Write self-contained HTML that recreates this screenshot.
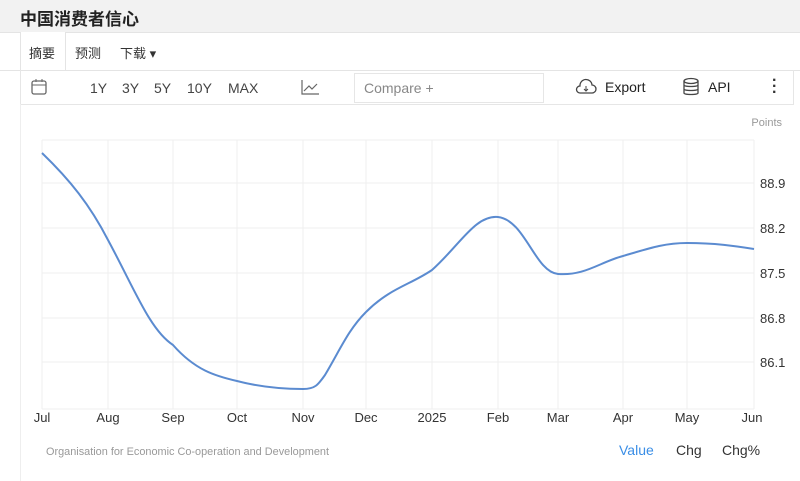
<!DOCTYPE html>
<html><head><meta charset="utf-8"><style>
body{margin:0;width:800px;height:481px;background:#fff;font-family:"Liberation Sans","Noto Sans CJK SC",sans-serif;position:relative;overflow:hidden;color:#333}
.a{position:absolute;white-space:nowrap}
.p{position:absolute;top:80px;font-size:14px;color:#444}
</style></head><body>
<div class="a" style="left:0;top:0;width:800px;height:32px;background:#f2f2f2;border-bottom:1px solid #e4e4e4"></div>
<div class="a" style="left:20px;top:5px;font-size:17px;font-weight:bold;color:#222">中国消费者信心</div>
<div class="a" style="left:20px;top:32px;width:44px;height:38px;background:#fff;border-left:1px solid #e4e4e4;border-right:1px solid #e4e4e4"></div>
<div class="a" style="left:0;top:70px;width:800px;height:1px;background:#e4e4e4"></div>
<div class="a" style="left:29px;top:43px;font-size:13px">摘要</div>
<div class="a" style="left:75px;top:43px;font-size:13px">预测</div>
<div class="a" style="left:120px;top:43px;font-size:13px">下载 ▾</div>
<div class="a" style="left:20px;top:70px;width:772px;height:34px;border:1px solid #e6e6e6;border-top:none"></div>
<svg class="a" style="left:30px;top:78px" width="18" height="18"><rect x="2" y="3" width="14" height="13" rx="2" fill="none" stroke="#666" stroke-width="1.3"/><line x1="2" y1="7" x2="16" y2="7" stroke="#666"/><line x1="6" y1="1" x2="6" y2="4" stroke="#666"/><line x1="12" y1="1" x2="12" y2="4" stroke="#666"/></svg>
<div class="p" style="left:90px">1Y</div><div class="p" style="left:122px">3Y</div><div class="p" style="left:154px">5Y</div><div class="p" style="left:187px">10Y</div><div class="p" style="left:228px">MAX</div>
<svg class="a" style="left:300px;top:78px" width="20" height="18"><path d="M2 2V16H19" fill="none" stroke="#666" stroke-width="1.2"/><path d="M4 13L9 8L12 11L17 6" fill="none" stroke="#666" stroke-width="1.2"/></svg>
<div class="a" style="left:354px;top:73px;width:188px;height:28px;border:1px solid #e6e6e6"></div>
<div class="a" style="left:364px;top:80px;font-size:14px;color:#888">Compare +</div>
<svg class="a" style="left:574px;top:78px" width="24" height="18"><path d="M6 15H18A4 4 0 0 0 18 7A6 6 0 0 0 6 8A3.5 3.5 0 0 0 6 15Z" fill="none" stroke="#444" stroke-width="1.3"/><path d="M12 8V13M10 11L12 13L14 11" stroke="#444" fill="none"/></svg>
<div class="a" style="left:605px;top:79px;font-size:14px;color:#222">Export</div>
<svg class="a" style="left:682px;top:77px" width="18" height="20"><ellipse cx="9" cy="4" rx="7" ry="2.5" fill="none" stroke="#444" stroke-width="1.3"/><path d="M2 4V16C2 18 16 18 16 16V4M2 8C2 10 16 10 16 8M2 12C2 14 16 14 16 12" fill="none" stroke="#444" stroke-width="1.3"/></svg>
<div class="a" style="left:708px;top:79px;font-size:14px;color:#222">API</div>
<div class="a" style="left:772px;top:78px;font-size:16px;font-weight:bold;line-height:6px;color:#333">·<br>·<br>·</div>
<div class="a" style="left:20px;top:104px;width:1px;height:377px;background:#eee"></div>
<svg class="a" style="left:0;top:0" width="800" height="481">
<g stroke="#efefef" stroke-width="1">
<line x1="42" y1="140" x2="754" y2="140"/><line x1="42" y1="183" x2="754" y2="183"/><line x1="42" y1="228" x2="754" y2="228"/><line x1="42" y1="273" x2="754" y2="273"/><line x1="42" y1="318" x2="754" y2="318"/><line x1="42" y1="362" x2="754" y2="362"/><line x1="42" y1="409" x2="754" y2="409"/>
<line x1="42" y1="140" x2="42" y2="409"/><line x1="108" y1="140" x2="108" y2="409"/><line x1="173" y1="140" x2="173" y2="409"/><line x1="237" y1="140" x2="237" y2="409"/><line x1="303" y1="140" x2="303" y2="409"/><line x1="366" y1="140" x2="366" y2="409"/><line x1="432" y1="140" x2="432" y2="409"/><line x1="498" y1="140" x2="498" y2="409"/><line x1="558" y1="140" x2="558" y2="409"/><line x1="623" y1="140" x2="623" y2="409"/><line x1="687" y1="140" x2="687" y2="409"/><line x1="754" y1="140" x2="754" y2="409"/>
</g>
<path d="M42 153C70 180 90 205 108 240C135 290 150 330 173 345C195 370 215 376 237 381C260 387 285 389 303 389C315 389 318 385 325 375C340 350 348 330 366 312C390 288 410 285 432 270C460 245 475 215 498 217C525 220 535 272 558 274C585 276 600 262 623 256C650 248 665 243 687 243C715 243 735 246 754 249" fill="none" stroke="#5b8bd0" stroke-width="2"/>
<g font-size="13" fill="#333" font-family="Liberation Sans,sans-serif">
<text x="760" y="188">88.9</text><text x="760" y="233">88.2</text><text x="760" y="278">87.5</text><text x="760" y="323">86.8</text><text x="760" y="367">86.1</text>
<g text-anchor="middle"><text x="42" y="422">Jul</text><text x="108" y="422">Aug</text><text x="173" y="422">Sep</text><text x="237" y="422">Oct</text><text x="303" y="422">Nov</text><text x="366" y="422">Dec</text><text x="432" y="422">2025</text><text x="498" y="422">Feb</text><text x="558" y="422">Mar</text><text x="623" y="422">Apr</text><text x="687" y="422">May</text><text x="752" y="422">Jun</text></g>
</g>
<text x="782" y="126" font-size="11" fill="#999" text-anchor="end">Points</text>
<text x="46" y="455" font-size="11" fill="#999" textLength="283" lengthAdjust="spacingAndGlyphs">Organisation for Economic Co-operation and Development</text>
<text x="619" y="455" font-size="14" fill="#3a8ee6">Value</text>
<text x="676" y="455" font-size="14" fill="#333">Chg</text>
<text x="722" y="455" font-size="14" fill="#333">Chg%</text>
</svg>
</body></html>
